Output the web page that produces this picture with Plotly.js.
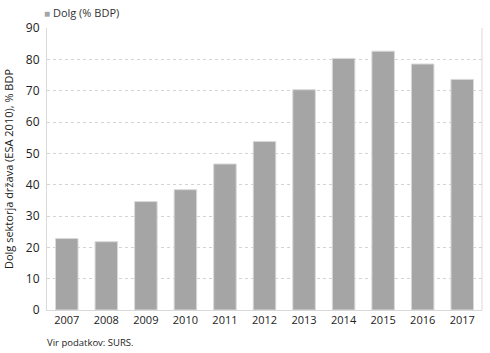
<!DOCTYPE html>
<html><head><meta charset="utf-8">
<script src="https://cdn.plot.ly/plotly-3.0.1.min.js"></script>
<style>body{margin:0;background:#fff}#chart{width:490px;height:353px}</style>
</head><body><div id="chart"></div>
<script>
const years = ['2007','2008','2009','2010','2011','2012','2013','2014','2015','2016','2017'];
const debt = [22.8, 21.8, 34.6, 38.4, 46.6, 53.8, 70.3, 80.3, 82.6, 78.5, 73.6];
const seriesName = 'Dolg (% BDP)';
const yTitle = 'Dolg sektorja država (ESA 2010), % BDP';
const source = 'Vir podatkov: SURS.';
const font = 'Open Sans, Noto Sans, sans-serif';
const barColor = '#a5a5a5';

Plotly.newPlot('chart', [{
  type: 'bar', x: years, y: debt, name: seriesName,
  marker: {color: barColor, line: {color: '#d9d9d9', width: 1}},
  showlegend: false
}], {
  width: 490, height: 353,
  margin: {l: 47, r: 8, t: 28, b: 43},
  paper_bgcolor: '#fff', plot_bgcolor: '#fff',
  font: {family: font, size: 11, color: '#222'},
  bargap: 0.43,
  showlegend: false,
  xaxis: {type: 'category', showline: true, linecolor: '#d9d9d9', linewidth: 1,
    ticks: '', tickfont: {size: 11}},
  yaxis: {range: [0, 90], dtick: 10, showline: true, linecolor: '#d9d9d9', linewidth: 1,
    gridcolor: '#d4d4d4', griddash: 'dot', gridwidth: 1, zeroline: false, ticks: '',
    tickfont: {size: 12}, ticklabelstandoff: 4,
    title: {text: yTitle, font: {size: 11}, standoff: 10}},
  shapes: [{type: 'line', xref: 'paper', yref: 'paper', x0: 1, x1: 1, y0: 0, y1: 1,
    line: {color: '#d9d9d9', width: 1}}],
  annotations: [
    {text: '<span style="color:' + barColor + ';font-size:10px">■</span> ' + seriesName,
     xref: 'paper', yref: 'paper', x: -0.012, y: 1.022, xanchor: 'left', yanchor: 'bottom',
     showarrow: false, font: {size: 11, color: '#333'}},
    {text: source, xref: 'paper', yref: 'paper', x: -0.005, y: -0.085,
    xanchor: 'left', yanchor: 'top', showarrow: false, font: {size: 9.5, color: '#222'}}]
}, {staticPlot: true});
</script></body></html>
